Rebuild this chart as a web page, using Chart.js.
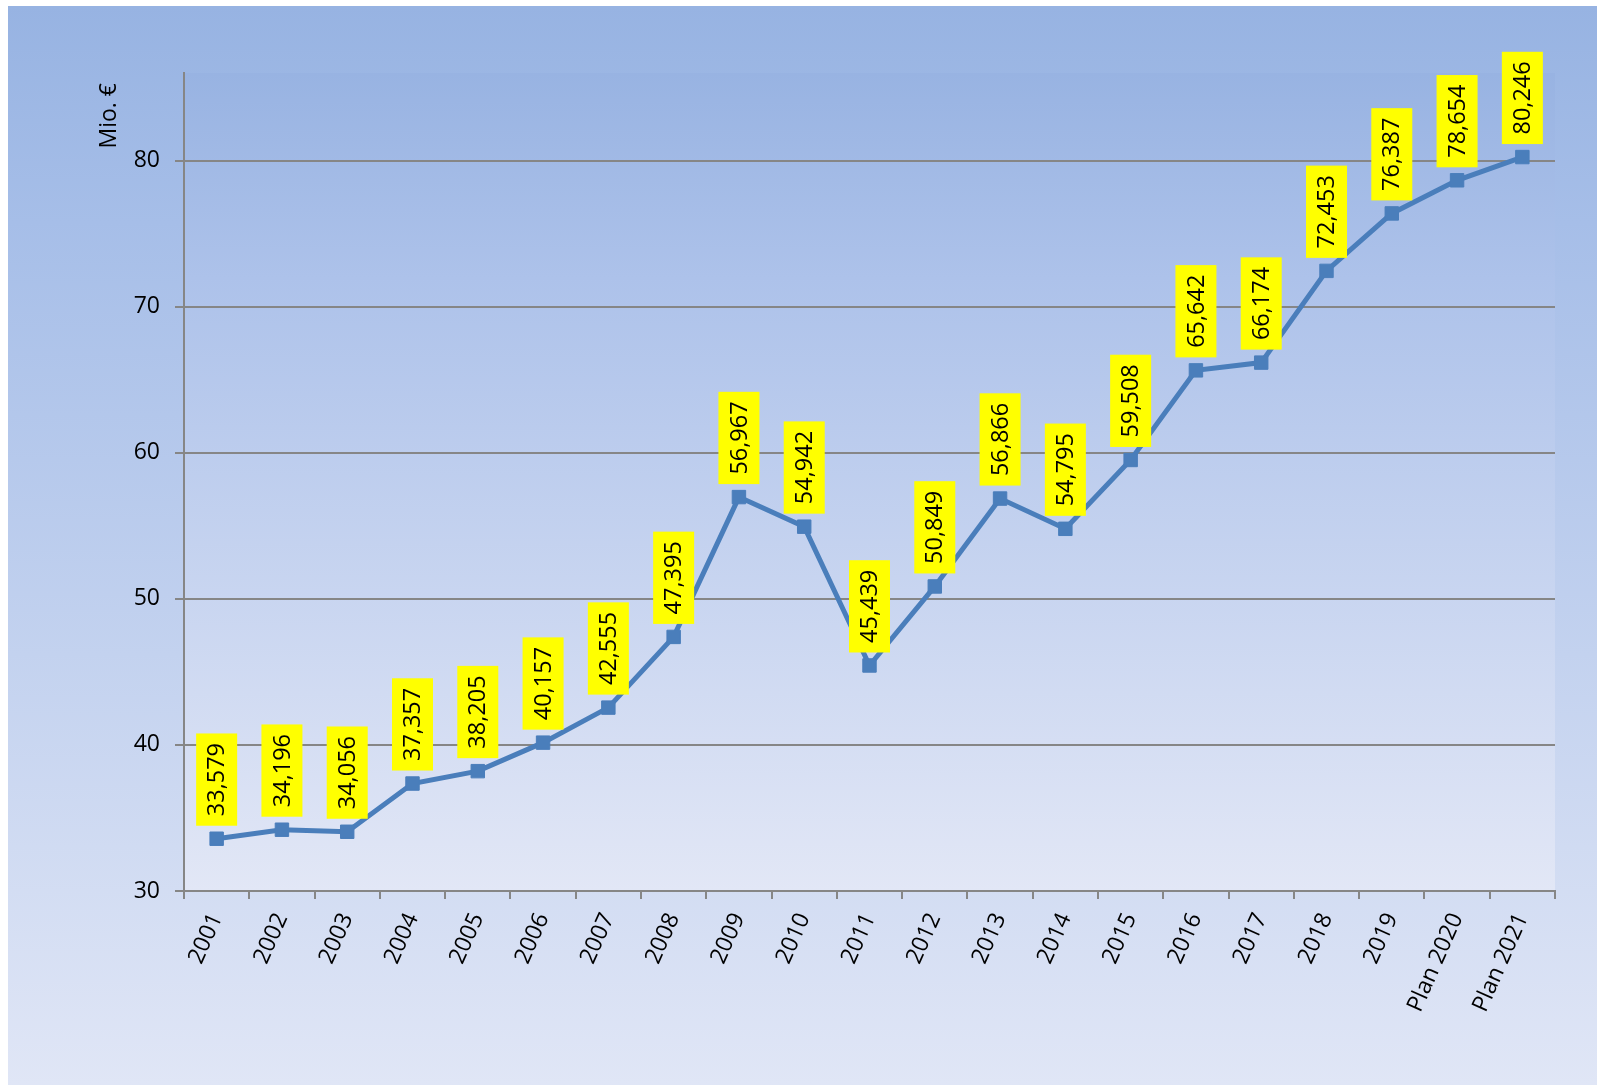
<!DOCTYPE html>
<html>
<head>
<meta charset="utf-8">
<script src="https://cdn.jsdelivr.net/npm/chart.js@4/dist/chart.umd.min.js"></script>
<style>
  html, body { margin: 0; padding: 0; background: #fff; }
  #wrap { width: 1597px; height: 1085px; }
</style>
</head>
<body>
<div id="wrap"><canvas id="chart" width="1597" height="1085"></canvas></div>
<script>
const years = ['2001', '2002', '2003', '2004', '2005', '2006', '2007', '2008', '2009', '2010', '2011',
  '2012', '2013', '2014', '2015', '2016', '2017', '2018', '2019', 'Plan 2020', 'Plan 2021'];
const values = [33.579, 34.196, 34.056, 37.357, 38.205, 40.157, 42.555, 47.395, 56.967, 54.942, 45.439,
  50.849, 56.866, 54.795, 59.508, 65.642, 66.174, 72.453, 76.387, 78.654, 80.246];
const yTicks = [30, 40, 50, 60, 70, 80];
const yTitle = 'Mio. €';

const FONT = '"Open Sans", "Noto Sans", sans-serif';
const LINE = '#4a7ebb';
const GRID = '#868686';

function fmt(v) {
    return v.toFixed(3).replace('.', ',');
}

// outer panel + plot area gradients
const backdrop = {
    id: 'backdrop',
    beforeDraw(chart) {
        const ctx = chart.ctx;
        const w = chart.width, h = chart.height;
        let g = ctx.createLinearGradient(0, 6, 0, h);
        g.addColorStop(0, '#97b3e2');
        g.addColorStop(0.2, '#a6bee8');
        g.addColorStop(1, '#e0e6f6');
        ctx.save();
        ctx.fillStyle = g;
        ctx.fillRect(8, 6, w - 8, h - 6);
        const a = chart.chartArea;
        g = ctx.createLinearGradient(0, a.top, 0, a.bottom);
        g.addColorStop(0, '#98b3e2');
        g.addColorStop(0.25, '#adc2ea');
        g.addColorStop(1, '#e2e7f6');
        ctx.fillStyle = g;
        ctx.fillRect(a.left, a.top, a.right - a.left, a.bottom - a.top);
        ctx.restore();
    }
};

// yellow value boxes above the points, plus the y title
const valueBoxes = {
    id: 'valueBoxes',
    afterDatasetsDraw(chart) {
        const ctx = chart.ctx;
        const meta = chart.getDatasetMeta(0);
        ctx.save();
        ctx.font = '23.5px ' + FONT;
        meta.data.forEach((pt, i) => {
            const txt = fmt(values[i]);
            const tw = ctx.measureText(txt).width;
            const bw = 41, bh = tw + 19;
            const bottom = pt.y - 13;
            ctx.fillStyle = '#ffff00';
            ctx.fillRect(pt.x - bw / 2, bottom - bh, bw, bh);
            ctx.save();
            ctx.translate(pt.x + 1, bottom - bh / 2);
            ctx.rotate(-Math.PI / 2);
            ctx.fillStyle = '#000';
            ctx.textAlign = 'center';
            ctx.textBaseline = 'middle';
            ctx.fillText(txt, 0, 0);
            ctx.restore();
        });
        ctx.font = '23px ' + FONT;
        ctx.translate(109, 83);
        ctx.rotate(-Math.PI / 2);
        ctx.fillStyle = '#000';
        ctx.textAlign = 'right';
        ctx.textBaseline = 'middle';
        ctx.fillText(yTitle, 0, 0);
        ctx.restore();
    }
};

new Chart(document.getElementById('chart'), {
    type: 'line',
    data: {
        labels: years,
        datasets: [{
            data: values,
            borderColor: LINE,
            borderWidth: 5,
            pointStyle: 'rect',
            pointRadius: 9.5,
            pointBorderWidth: 1,
            pointBackgroundColor: LINE,
            pointBorderColor: LINE,
            tension: 0
        }]
    },
    options: {
        responsive: false,
        animation: false,
        layout: { padding: { left: 0, top: 73, right: 42, bottom: 0 } },
        plugins: { legend: { display: false }, tooltip: { enabled: false } },
        scales: {
            x: {
                offset: true,
                grid: { offset: true, drawOnChartArea: false, color: GRID, lineWidth: 2, tickLength: 8 },
                border: { color: GRID, width: 2 },
                ticks: { color: '#000', font: { family: FONT, size: 23 }, minRotation: 66, maxRotation: 66, padding: 10 },
                afterFit(s) { s.height = 194; }
            },
            y: {
                min: 30,
                max: 86,
                grid: { color: GRID, lineWidth: 2, tickLength: 9 },
                border: { color: GRID, width: 2 },
                ticks: { color: '#000', font: { family: FONT, size: 23 }, padding: 15, stepSize: 10 },
                afterBuildTicks(s) { s.ticks = yTicks.map(v => ({ value: v })); },
                afterFit(s) { s.width = 184; }
            }
        }
    },
    plugins: [backdrop, valueBoxes]
});
</script>
</body>
</html>
